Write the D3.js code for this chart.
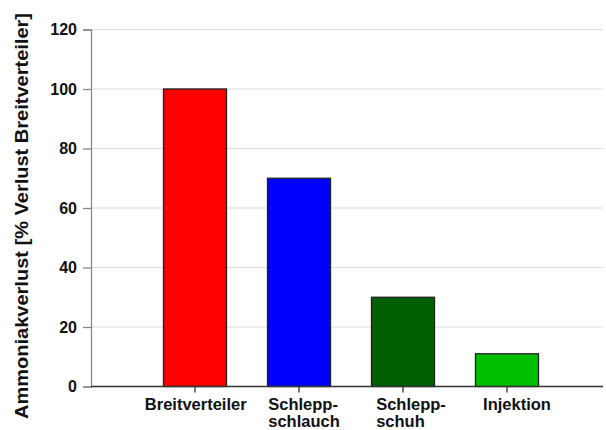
<!DOCTYPE html>
<html>
<head>
<meta charset="utf-8">
<script src="https://cdn.jsdelivr.net/npm/d3@7"></script>
<style>
  body { margin: 0; background: #fff; }
  text { font-family: "Liberation Sans", Arial, sans-serif; font-weight: bold; fill: #111; }
</style>
</head>
<body>
<div id="chart"></div>
<script>
// data
var categories = ["Breitverteiler", "Schlepp-schlauch", "Schlepp-schuh", "Injektion"];
var labelLines = [["Breitverteiler"], ["Schlepp-", "schlauch"], ["Schlepp-", "schuh"], ["Injektion"]];
var values = [100, 70, 30, 11];
var barColors = ["#ff0000", "#0000ff", "#005f00", "#00bf00"];
var yTicks = [0, 20, 40, 60, 80, 100, 120];
var yTitle = "Ammoniakverlust [% Verlust Breitverteiler]";

var width = 606, height = 430;

var svg = d3.select("#chart")
            .append("svg")
            .attr("width", width)
            .attr("height", height);

// scales
var x = d3.scaleBand()
          .domain(categories)
          .range([143, 559])
          .paddingInner(0.394)
          .paddingOuter(0.197);

var y = d3.scaleLinear()
          .domain([0, 120])
          .range([386.5, 29.5]);

var xLeft = 91, xRight = 603;

// gridlines
svg.append("g")
   .selectAll("line")
   .data(yTicks.filter(d => d > 0))
   .enter()
   .append("line")
   .attr("x1", xLeft)
   .attr("x2", xRight)
   .attr("y1", d => y(d))
   .attr("y2", d => y(d))
   .attr("stroke", "#dcdcdc")
   .attr("stroke-width", 1.2);

// y axis
var yAxis = d3.axisLeft(y)
              .tickValues(yTicks)
              .tickSize(8)
              .tickPadding(6);
var gy = svg.append("g")
            .attr("transform", `translate(${xLeft},0)`)
            .call(yAxis);
gy.select(".domain").attr("stroke", "#8a8a8a").attr("stroke-width", 1.3);
gy.selectAll(".tick line").attr("stroke", "#8a8a8a").attr("stroke-width", 1.3);
gy.selectAll(".tick text")
  .style("font-size", "16px")
  .attr("fill", "#111");

// bars
svg.append("g")
   .selectAll("rect")
   .data(values)
   .enter()
   .append("rect")
   .attr("x", (d, i) => x(categories[i]))
   .attr("y", d => y(d))
   .attr("width", x.bandwidth())
   .attr("height", d => y(0) - y(d))
   .attr("fill", (d, i) => barColors[i])
   .attr("stroke", "#222")
   .attr("stroke-width", 1.3);

// x axis
svg.append("line")
   .attr("x1", xLeft)
   .attr("x2", xRight)
   .attr("y1", y(0))
   .attr("y2", y(0))
   .attr("stroke", "#333")
   .attr("stroke-width", 1.3);

svg.append("g")
   .selectAll("line")
   .data(categories)
   .enter()
   .append("line")
   .attr("x1", d => x(d) + x.bandwidth() / 2)
   .attr("x2", d => x(d) + x.bandwidth() / 2)
   .attr("y1", y(0))
   .attr("y2", y(0) + 6)
   .attr("stroke", "#333")
   .attr("stroke-width", 1.3);

// category labels, lines left aligned inside a block
var shifts = [1, 5, 8, 10];
categories.forEach(function(c, i) {
    var t = svg.append("text")
               .style("font-size", "16.5px")
               .attr("text-anchor", "start");
    labelLines[i].forEach(function(line, j) {
        t.append("tspan")
         .attr("x", 0)
         .attr("y", 410 + j * 17)
         .text(line);
    });
    var w = t.node().getBBox().width;
    var cx = x(c) + x.bandwidth() / 2 + shifts[i];
    t.attr("transform", `translate(${cx - w / 2},0)`);
});

// y title
svg.append("text")
   .attr("transform", `translate(28, 216) rotate(-90)`)
   .attr("text-anchor", "middle")
   .attr("textLength", 406)
   .attr("lengthAdjust", "spacingAndGlyphs")
   .style("font-size", "17.5px")
   .text(yTitle);
</script>
</body>
</html>
